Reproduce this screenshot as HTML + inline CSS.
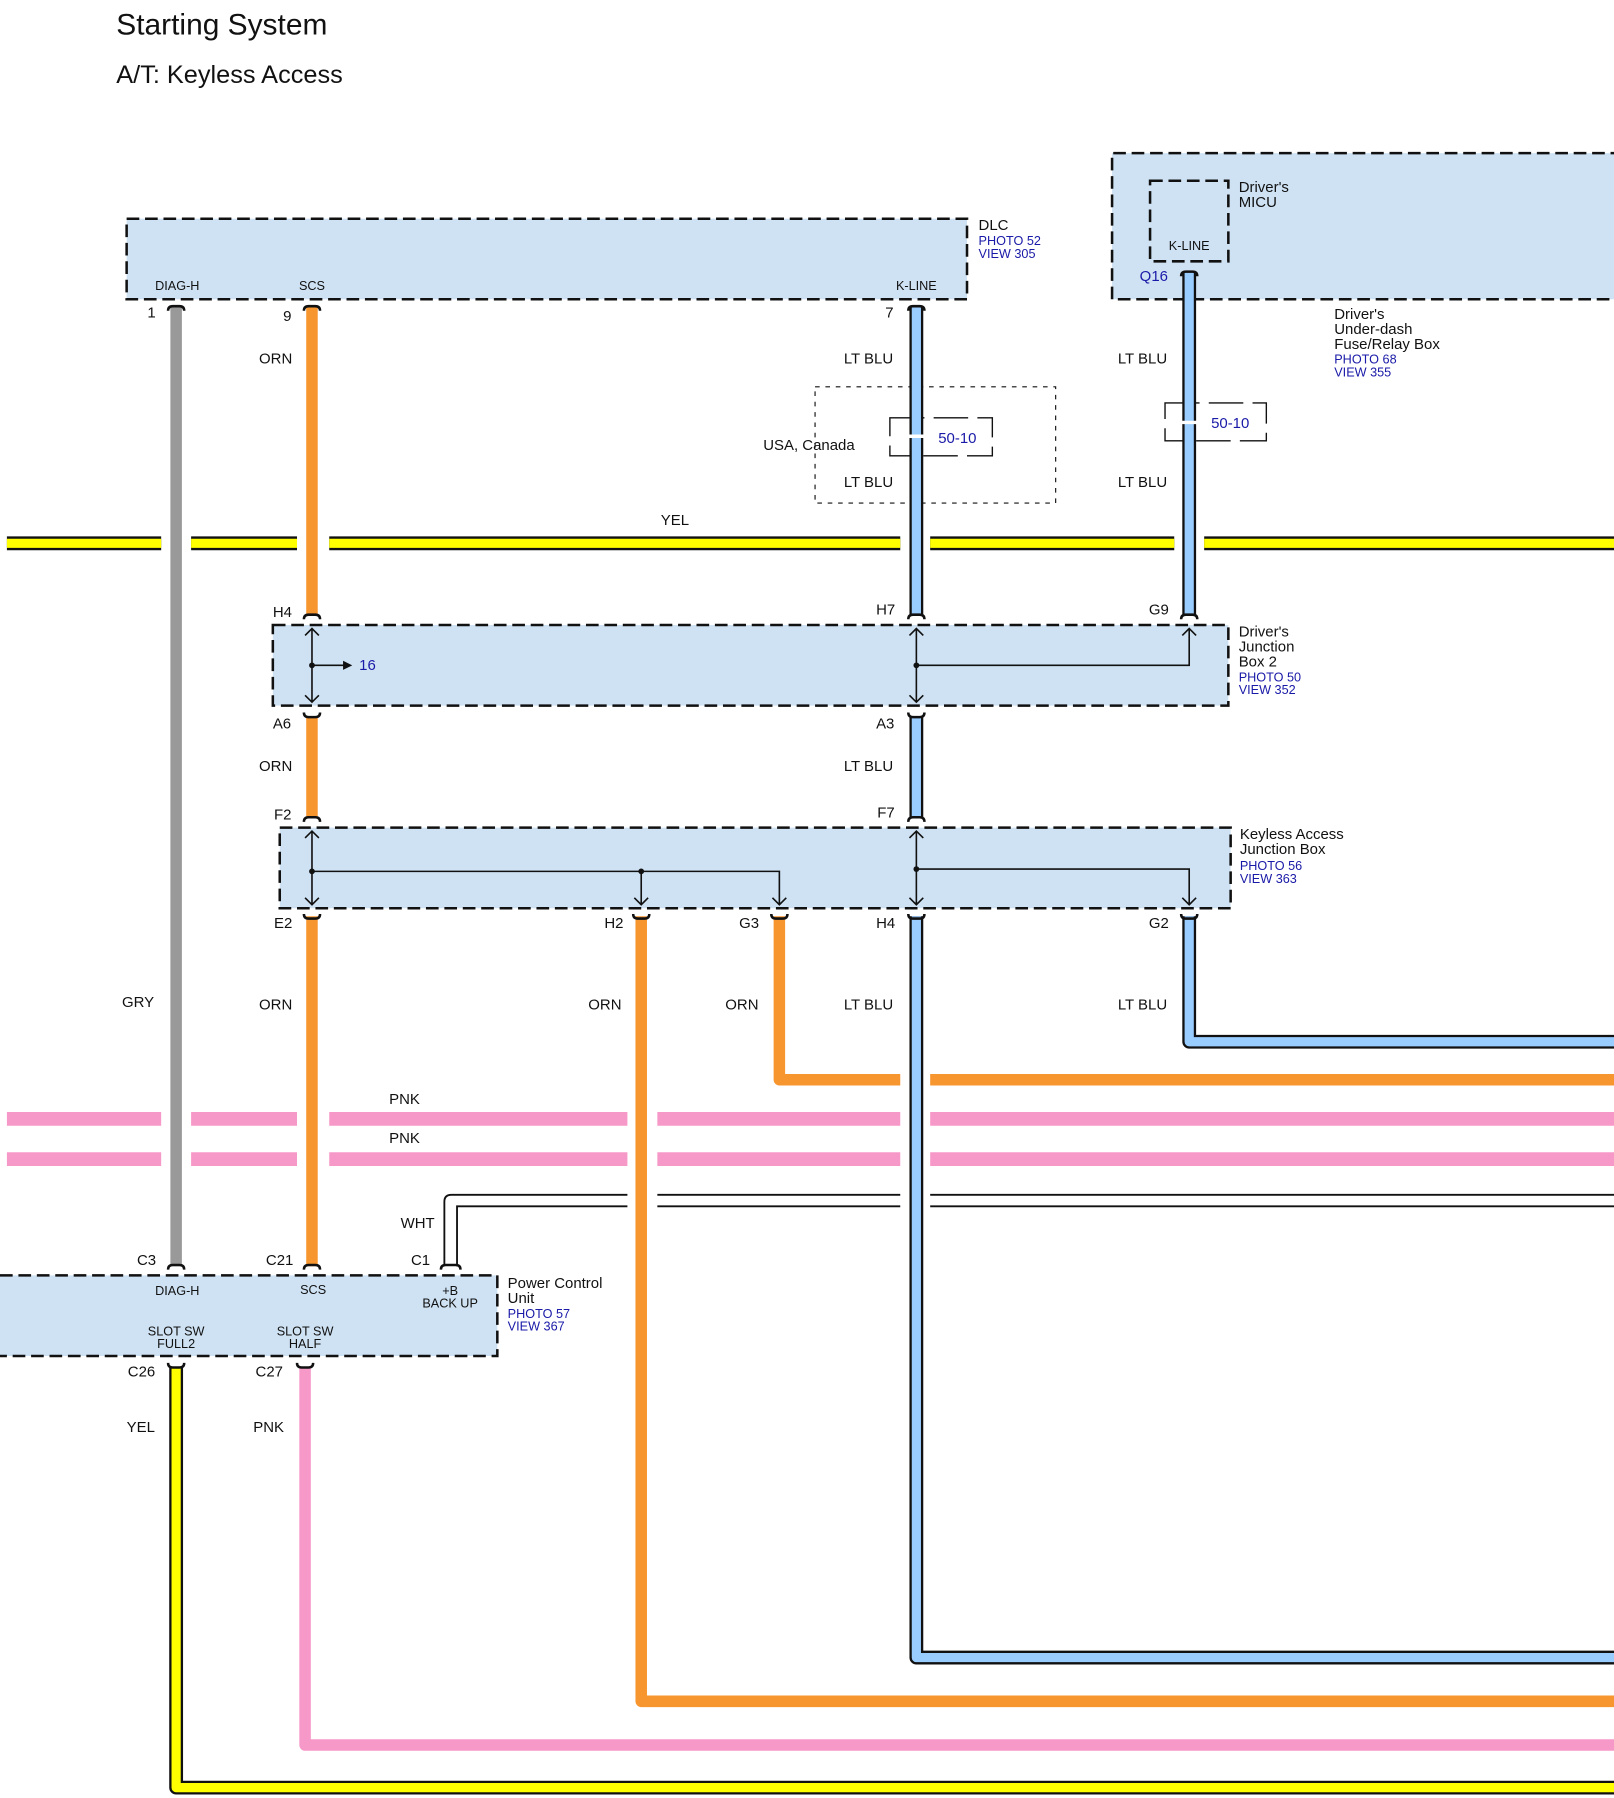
<!DOCTYPE html>
<html><head><meta charset="utf-8"><style>
html,body{margin:0;padding:0;background:#fff;}
svg{display:block;}
text{font-family:"Liberation Sans",Arial,sans-serif;fill:#111;}
.s{font-size:11px;}
.m{font-size:13px;}
.b{fill:#1a1aa8;}
</style></head><body>
<svg width="1614" height="1798" viewBox="0 0 1402 1562" preserveAspectRatio="none" xmlns="http://www.w3.org/2000/svg">
<rect width="1402" height="1562" fill="#fff"/>
<text x="101" y="30" style="font-size:26px">Starting System</text>
<text x="101" y="72" style="font-size:22px">A/T: Keyless Access</text>

<g fill="#cfe2f3" stroke="#111" stroke-width="2.2" stroke-dasharray="11,5">
<rect x="110" y="190" width="730" height="70"/>
<path d="M1410 133 H966 V260 H1410"/>
<rect x="237" y="543" width="830" height="70"/>
<rect x="243" y="719" width="826" height="70"/>
<path d="M0 1108 H432 V1178 H0"/>
</g>
<rect x="999" y="157" width="68" height="70" fill="none" stroke="#111" stroke-width="2.2" stroke-dasharray="11,5"/>

<rect x="708" y="336" width="209" height="101" fill="none" stroke="#111" stroke-width="1" stroke-dasharray="4,5"/>
<g fill="none" stroke="#111" stroke-width="1.2" stroke-dasharray="30,8">
<rect x="773" y="363" width="89" height="33"/>
<rect x="1012" y="350" width="88" height="33"/>
</g>

<g>
<path d="M6 472 H140 M166 472 H258 M286 472 H782 M808 472 H1020 M1046 472 H1402" stroke="#111" stroke-width="12"/>
<path d="M6 472 H140 M166 472 H258 M286 472 H782 M808 472 H1020 M1046 472 H1402" stroke="#ffff00" stroke-width="8"/>
</g>
<path d="M6 972 H140 M166 972 H258 M286 972 H545 M571 972 H782 M808 972 H1402 M6 1007 H140 M166 1007 H258 M286 1007 H545 M571 1007 H782 M808 1007 H1402" stroke="#f799c8" stroke-width="12"/>
<path d="M386 1100 V1044 Q386 1038 392 1038 H545 M571 1038 H782 M808 1038 H1402" fill="none" stroke="#111" stroke-width="1.6"/>
<path d="M397 1100 V1048 H545 M571 1048 H782 M808 1048 H1402" fill="none" stroke="#111" stroke-width="1.6"/>

<path d="M153 267 V1100" stroke="#999" stroke-width="10"/>
<g stroke="#f7962f" stroke-width="10" fill="none">
<path d="M271 267 V535 M271 622 V710 M271 796 V1100"/>
<path d="M557 796 V1478 H1402" stroke-linejoin="round"/>
<path d="M677 796 V938 H782 M808 938 H1402" stroke-linejoin="round"/>
</g>
<g fill="none" stroke-linejoin="round">
<path d="M796 267 V535 M796 622 V710 M796 796 V1440 H1402 M1033 237 V535 M1033 796 V905 H1402" stroke="#111" stroke-width="12"/>
<path d="M796 267 V535 M796 622 V710 M796 796 V1440 H1402 M1033 237 V535 M1033 796 V905 H1402" stroke="#99ccff" stroke-width="8"/>
<path d="M153 1188 V1553 H1402" stroke="#111" stroke-width="12"/>
<path d="M153 1188 V1553 H1402" stroke="#ffff00" stroke-width="8"/>
</g>
<path d="M265 1188 V1516 H1402" fill="none" stroke="#f799c8" stroke-width="10" stroke-linejoin="round"/>
<g stroke="#fff" stroke-width="3">
<path d="M788 379 H804 M1025 367 H1041"/>
</g>

<g fill="none" stroke="#111" stroke-width="2.2">
<path d="M146 270 Q146 266 150 266 H156 Q160 266 160 270"/>
<path d="M264 270 Q264 266 268 266 H274 Q278 266 278 270"/>
<path d="M789 270 Q789 266 793 266 H799 Q803 266 803 270"/>
<path d="M1026 240 Q1026 236 1030 236 H1036 Q1040 236 1040 240"/>
<path d="M264 538 Q264 534 268 534 H274 Q278 534 278 538"/>
<path d="M789 538 Q789 534 793 534 H799 Q803 534 803 538"/>
<path d="M1026 538 Q1026 534 1030 534 H1036 Q1040 534 1040 538"/>
<path d="M264 619 Q264 623 268 623 H274 Q278 623 278 619"/>
<path d="M789 619 Q789 623 793 623 H799 Q803 623 803 619"/>
<path d="M264 714 Q264 710 268 710 H274 Q278 710 278 714"/>
<path d="M789 714 Q789 710 793 710 H799 Q803 710 803 714"/>
<path d="M264 794 Q264 798 268 798 H274 Q278 798 278 794"/>
<path d="M550 794 Q550 798 554 798 H560 Q564 798 564 794"/>
<path d="M670 794 Q670 798 674 798 H680 Q684 798 684 794"/>
<path d="M789 794 Q789 798 793 798 H799 Q803 798 803 794"/>
<path d="M1026 794 Q1026 798 1030 798 H1036 Q1040 798 1040 794"/>
<path d="M146 1103 Q146 1099 150 1099 H156 Q160 1099 160 1103"/>
<path d="M264 1103 Q264 1099 268 1099 H274 Q278 1099 278 1103"/>
<path d="M383 1103 Q383 1099 387 1099 H396 Q400 1099 400 1103"/>
<path d="M146 1184 Q146 1188 150 1188 H156 Q160 1188 160 1184"/>
<path d="M258 1184 Q258 1188 262 1188 H268 Q272 1188 272 1184"/>
</g>

<g stroke="#111" stroke-width="1.4" fill="none">
<path d="M271 546 V610 M265 552 L271 546 L277 552 M265 604 L271 610 L277 604"/>
<path d="M271 578 H300"/>
<path d="M796 546 V610 M790 552 L796 546 L802 552 M790 604 L796 610 L802 604"/>
<path d="M796 578 H1033 V546 M1027 552 L1033 546 L1039 552"/>
<path d="M271 722 V786 M265 728 L271 722 L277 728 M265 780 L271 786 L277 780"/>
<path d="M271 757 H677 V786 M671 780 L677 786 L683 780"/>
<path d="M557 757 V786 M551 780 L557 786 L563 780"/>
<path d="M796 722 V786 M790 728 L796 722 L802 728 M790 780 L796 786 L802 780"/>
<path d="M796 755 H1033 V786 M1027 780 L1033 786 L1039 780"/>
</g>
<g fill="#111">
<circle cx="271" cy="578" r="2.5"/><circle cx="796" cy="578" r="2.5"/>
<circle cx="271" cy="757" r="2.5"/><circle cx="557" cy="757" r="2.5"/><circle cx="796" cy="755" r="2.5"/>
<path d="M298 574 L306 578 L298 582 Z"/>
</g>
<text x="312" y="582" class="m b">16</text>

<text x="154" y="252" class="s" text-anchor="middle">DIAG-H</text>
<text x="271" y="252" class="s" text-anchor="middle">SCS</text>
<text x="796" y="252" class="s" text-anchor="middle">K-LINE</text>
<text x="850" y="200" class="m">DLC</text>
<text x="850" y="213" class="s b">PHOTO 52</text>
<text x="850" y="224" class="s b">VIEW 305</text>
<text x="1033" y="217" class="s" text-anchor="middle">K-LINE</text>
<text x="1076" y="167" class="m">Driver's</text>
<text x="1076" y="180" class="m">MICU</text>
<text x="990" y="244" class="m b">Q16</text>
<text x="1159" y="277" class="m">Driver's</text>
<text x="1159" y="290" class="m">Under-dash</text>
<text x="1159" y="303" class="m">Fuse/Relay Box</text>
<text x="1159" y="316" class="s b">PHOTO 68</text>
<text x="1159" y="327" class="s b">VIEW 355</text>

<text x="128" y="276" class="m">1</text>
<text x="246" y="279" class="m">9</text>
<text x="769" y="276" class="m">7</text>
<g class="m">
<text x="225" y="316">ORN</text>
<text x="733" y="316">LT BLU</text>
<text x="971" y="316">LT BLU</text>
<text x="663" y="391">USA, Canada</text>
<text x="733" y="423">LT BLU</text>
<text x="971" y="423">LT BLU</text>
<text x="574" y="456">YEL</text>
<text x="237" y="536">H4</text>
<text x="761" y="534">H7</text>
<text x="998" y="534">G9</text>
<text x="237" y="633">A6</text>
<text x="761" y="633">A3</text>
<text x="225" y="670">ORN</text>
<text x="733" y="670">LT BLU</text>
<text x="238" y="712">F2</text>
<text x="762" y="710">F7</text>
<text x="238" y="806">E2</text>
<text x="525" y="806">H2</text>
<text x="642" y="806">G3</text>
<text x="761" y="806">H4</text>
<text x="998" y="806">G2</text>
<text x="106" y="875">GRY</text>
<text x="225" y="877">ORN</text>
<text x="511" y="877">ORN</text>
<text x="630" y="877">ORN</text>
<text x="733" y="877">LT BLU</text>
<text x="971" y="877">LT BLU</text>
<text x="338" y="959">PNK</text>
<text x="338" y="993">PNK</text>
<text x="348" y="1067">WHT</text>
<text x="119" y="1099">C3</text>
<text x="231" y="1099">C21</text>
<text x="357" y="1099">C1</text>
<text x="111" y="1196">C26</text>
<text x="222" y="1196">C27</text>
<text x="110" y="1244">YEL</text>
<text x="220" y="1244">PNK</text>
</g>
<text x="815" y="385" class="m b">50-10</text>
<text x="1052" y="372" class="m b">50-10</text>

<text x="1076" y="553" class="m">Driver's</text>
<text x="1076" y="566" class="m">Junction</text>
<text x="1076" y="579" class="m">Box 2</text>
<text x="1076" y="592" class="s b">PHOTO 50</text>
<text x="1076" y="603" class="s b">VIEW 352</text>
<text x="1077" y="729" class="m">Keyless Access</text>
<text x="1077" y="742" class="m">Junction Box</text>
<text x="1077" y="756" class="s b">PHOTO 56</text>
<text x="1077" y="767" class="s b">VIEW 363</text>

<g class="s" text-anchor="middle">
<text x="154" y="1125">DIAG-H</text>
<text x="272" y="1124">SCS</text>
<text x="391" y="1125">+B</text>
<text x="391" y="1136">BACK UP</text>
<text x="153" y="1160">SLOT SW</text>
<text x="153" y="1171">FULL2</text>
<text x="265" y="1160">SLOT SW</text>
<text x="265" y="1171">HALF</text>
</g>
<text x="441" y="1119" class="m">Power Control</text>
<text x="441" y="1132" class="m">Unit</text>
<text x="441" y="1145" class="s b">PHOTO 57</text>
<text x="441" y="1156" class="s b">VIEW 367</text>
</svg>
</body></html>
